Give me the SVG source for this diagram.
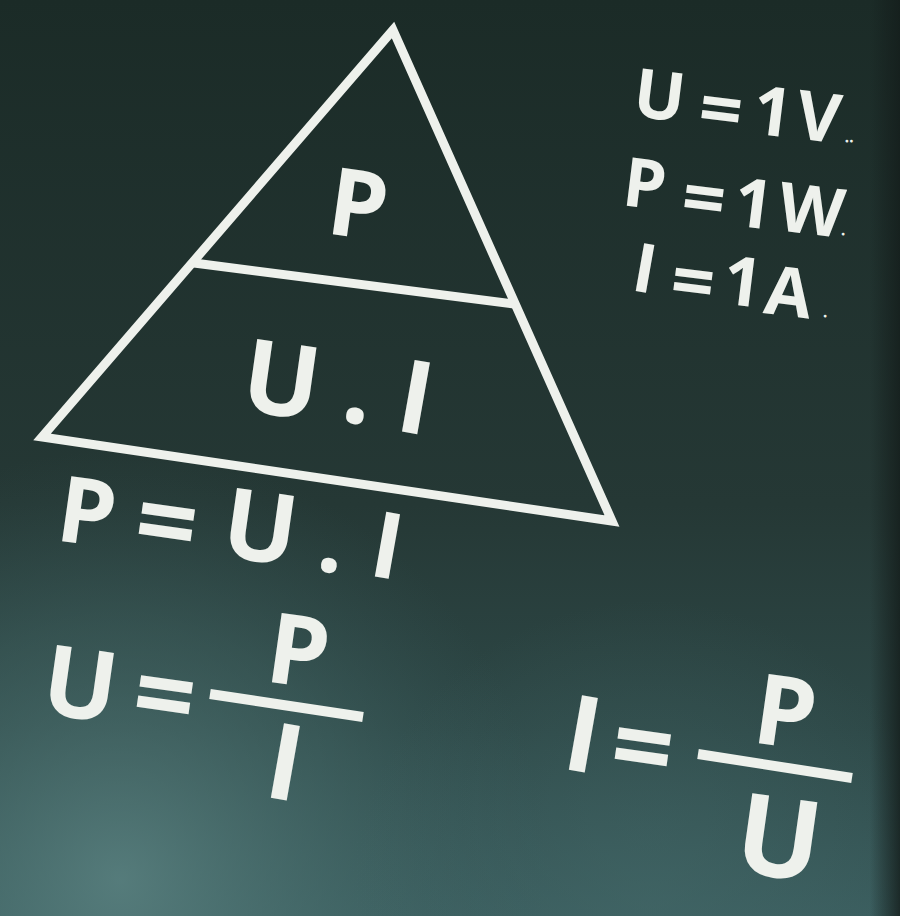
<svg xmlns="http://www.w3.org/2000/svg" width="900" height="916" viewBox="0 0 900 916">
  <defs>
    <linearGradient id="bg" x1="0" y1="0" x2="0" y2="1">
      <stop offset="0" stop-color="#1b2b27"/>
      <stop offset="0.55" stop-color="#253835"/>
      <stop offset="0.8" stop-color="#2e4948"/>
      <stop offset="1" stop-color="#3a5d5e"/>
    </linearGradient>
    <radialGradient id="glow" cx="120" cy="880" r="430" gradientUnits="userSpaceOnUse">
      <stop offset="0" stop-color="#5f8786" stop-opacity="0.75"/>
      <stop offset="0.6" stop-color="#4a706f" stop-opacity="0.35"/>
      <stop offset="1" stop-color="#3b5e5f" stop-opacity="0"/>
    </radialGradient>
    <radialGradient id="glow2" cx="650" cy="900" r="300" gradientUnits="userSpaceOnUse">
      <stop offset="0" stop-color="#456a6a" stop-opacity="0.5"/>
      <stop offset="1" stop-color="#456a6a" stop-opacity="0"/>
    </radialGradient>
    <linearGradient id="edge" x1="0" y1="0" x2="1" y2="0">
      <stop offset="0" stop-color="#141d1b" stop-opacity="0"/>
      <stop offset="1" stop-color="#141d1b" stop-opacity="0.8"/>
    </linearGradient>
    <style>
      .chalk { fill: #eef1ec; font-family: "Open Sans", "Liberation Sans", sans-serif; font-weight: 700; text-anchor: middle; }
      .line { stroke: #eef1ec; fill: none; stroke-linecap: butt; }
    </style>
  </defs>

  <rect x="0" y="0" width="900" height="916" fill="url(#bg)"/>
  <rect x="0" y="0" width="900" height="916" fill="url(#glow)"/>
  <rect x="0" y="0" width="900" height="916" fill="url(#glow2)"/>
  <rect x="870" y="0" width="30" height="916" fill="url(#edge)"/>

  <g id="triangle">
    <polygon class="line" points="393,30 42,437 612,521" stroke-width="9" stroke-linejoin="miter"/>
    <line class="line" x1="194" y1="263" x2="514" y2="304" stroke-width="9"/>
    <text class="chalk" font-size="94"><tspan x="354" y="233" rotate="8">P</tspan></text>
    <text class="chalk" font-size="102"><tspan x="277" y="410" rotate="8">U</tspan><tspan x="354" y="421" rotate="8">.</tspan><tspan x="410" y="430" rotate="10">I</tspan></text>
  </g>

  <g id="formula-p">
    <text class="chalk" font-size="92"><tspan x="83" y="540" rotate="8">P</tspan><tspan x="162" y="555" font-size="108" rotate="8">=</tspan><tspan x="256" y="556" font-size="98" rotate="8">U</tspan><tspan x="328" y="570" rotate="8">.</tspan><tspan x="382" y="575" rotate="10">I</tspan></text>
  </g>

  <g id="formula-u">
    <text class="chalk" font-size="98"><tspan x="76" y="713" rotate="8">U</tspan><tspan x="160" y="728" font-size="108" rotate="8">=</tspan><tspan x="294" y="681" rotate="8">P</tspan><tspan x="279" y="796" font-size="106" rotate="10">I</tspan></text>
    <line class="line" x1="210" y1="694" x2="363" y2="717" stroke-width="10"/>
  </g>

  <g id="formula-i">
    <text class="chalk" font-size="106"><tspan x="577" y="768" rotate="10">I</tspan><tspan x="638" y="780" font-size="108" rotate="8">=</tspan><tspan x="781" y="742" font-size="98" rotate="8">P</tspan><tspan x="774" y="871" font-size="112" rotate="8">U</tspan></text>
    <line class="line" x1="698" y1="754" x2="852" y2="778" stroke-width="10"/>
  </g>

  <g id="units">
    <text class="chalk" font-size="68"><tspan x="657" y="116" rotate="7">U</tspan><tspan x="718" y="133" font-size="76" rotate="7">=</tspan><tspan x="770" y="133" rotate="7">1</tspan><tspan x="816" y="138" rotate="7">V</tspan><tspan x="849" y="142" font-size="16" rotate="7">..</tspan></text>
    <text class="chalk" font-size="68"><tspan x="642" y="205" rotate="7">P</tspan><tspan x="701" y="222" font-size="76" rotate="7">=</tspan><tspan x="751" y="225" rotate="7">1</tspan><tspan x="809" y="230" rotate="7">W</tspan><tspan x="843" y="235" font-size="16" rotate="7">.</tspan></text>
    <text class="chalk" font-size="68"><tspan x="641" y="290" rotate="10">I</tspan><tspan x="690" y="305" font-size="76" rotate="7">=</tspan><tspan x="740" y="303" rotate="7">1</tspan><tspan x="786" y="313" rotate="7">A</tspan><tspan x="825" y="317" font-size="16" rotate="7">.</tspan></text>
  </g>
</svg>
